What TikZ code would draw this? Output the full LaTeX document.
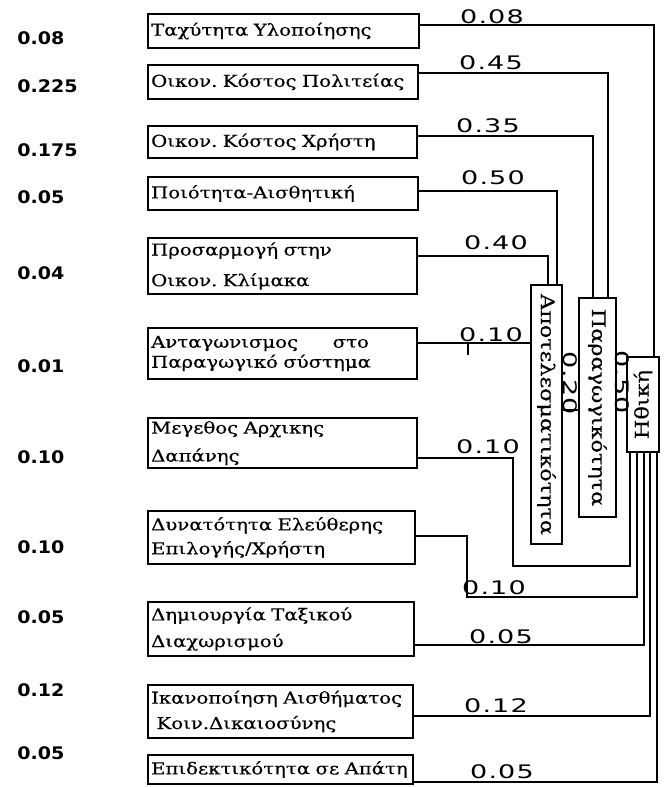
\documentclass[tikz,border=0pt]{standalone}
\usepackage{fontspec}
\usepackage{graphicx}
\setmainfont{DejaVu Serif}[FakeStretch=1.2,FakeBold=0.4]
\newfontfamily\wtfont{DejaVu Sans}[FakeStretch=1.45,LetterSpace=6]
\newfontfamily\gwfont{DejaVu Sans}[FakeStretch=1.1]
\usetikzlibrary{positioning}
\frenchspacing

\begin{document}
\begin{tikzpicture}[x=0.75pt,y=-0.75pt,
  box/.style={draw,line width=1.2pt,anchor=west,inner xsep=2.5pt,inner ysep=0pt,align=left,text width=#1,font=\fontsize{12.3}{15}\selectfont},
  vbox/.style={draw,line width=1.2pt,inner sep=0pt,font=\fontsize{14}{15}\selectfont},
  link/.style={line width=1.2pt},
  wt/.style={font=\wtfont\fontsize{14}{14}\selectfont,inner sep=0pt},
  gw/.style={font=\gwfont\bfseries\fontsize{13}{13}\selectfont,anchor=west,inner sep=0pt}]
\useasboundingbox (0,0) rectangle (667,787);

% criteria
\node[box=198.25pt,minimum height=25.5pt] (speed) at (147,31) {Ταχύτητα Υλοποίησης};
\node[box=197.5pt,minimum height=25.5pt] (cstate) at (147,82) {Οικον. Κόστος Πολιτείας};
\node[box=196.75pt,minimum height=24pt] (cuser) at (147,142) {Οικον. Κόστος Χρήστη};
\node[box=197.5pt,minimum height=24.75pt] (qual) at (147,193.5) {Ποιότητα-Αισθητική};
\node[box=196.75pt,minimum height=42pt] (adapt) at (147,266) {Προσαρμογή στην\\[8pt]Οικον. Κλίμακα};
\node[box=196.75pt,minimum height=38.25pt] (compet) at (147,353.5) {Ανταγωνισμος\hspace{26pt}στο\\Παραγωγικό σύστημα};
\node[box=196.75pt,minimum height=37.5pt] (size) at (147,443) {Μεγεθος Αρχικης\\[6pt]Δαπάνης};
\node[box=195.25pt,minimum height=39.75pt] (choice) at (147,537.5) {Δυνατότητα Ελεύθερης\\[3pt]Επιλογής/Χρήστη};
\node[box=194.5pt,minimum height=40.5pt] (class) at (147,629) {Δημιουργία Ταξικού\\[5pt]Διαχωρισμού};
\node[box=193.75pt,minimum height=39.75pt] (justice) at (147,711.5) {Ικανοποίηση Αισθήματος\\[4pt]\ Κοιν.Δικαιοσύνης};
\node[box=193.75pt,minimum height=21.75pt] (fraud) at (147,769.5) {Επιδεκτικότητα σε Απάτη};

% main groups
\node[vbox,minimum width=23.25pt,minimum height=194.25pt] (effic) at (546.5,414.5) {\rotatebox{-90}{Αποτελεσματικότητα}};
\node[vbox,minimum width=27.75pt,minimum height=164.25pt] (prod) at (597.5,407.5) {\rotatebox{-90}{Παραγωγικότητα}};
\node[vbox,minimum width=24pt,minimum height=71.25pt] (ethic) at (643,404.5) {\rotatebox{90}{Ηθική}};

% links
\draw[link] (speed.east |- 0,25) -| (654,0 |- ethic.north);
\draw[link] (cstate.east |- 0,73) -| (608,0 |- prod.north);
\draw[link] (cuser.east |- 0,136) -| (593,0 |- prod.north);
\draw[link] (qual.east |- 0,191) -| (557,0 |- effic.north);
\draw[link] (adapt.east |- 0,256) -| (548,0 |- effic.north);
\draw[link] (compet.east |- 0,343) -- (effic.west |- 0,343);
\coordinate (tick) at (468,343);
\draw[link] (tick) -- ++(0,12);
\draw[link] (size.east |- 0,458) -| (513,566) -| (630,0 |- ethic.south);
\draw[link] (choice.east |- 0,536) -| (467,597) -| (637,0 |- ethic.south);
\draw[link] (class.east |- 0,645) -| (644,0 |- ethic.south);
\draw[link] (justice.east |- 0,716) -| (650,0 |- ethic.south);
\draw[link] (fraud.east |- 0,782) -| (657,0 |- ethic.south);
\draw[link] (effic.east |- 0,410) -- (prod.west |- 0,410);
\draw[link] (prod.east |- 0,410) -- (ethic.west |- 0,410);

% local weights
\node[wt] (w-speed) at (492,17) {0.08};
\node[wt] (w-cstate) at (491,63) {0.45};
\node[wt] (w-cuser) at (488,126) {0.35};
\node[wt] (w-qual) at (493,178) {0.50};
\node[wt] (w-adapt) at (496,243) {0.40};
\node[wt] (w-compet) at (491,335) {0.10};
\node[wt] (w-size) at (488,447) {0.10};
\node[wt] (w-choice) at (494,588) {0.10};
\node[wt] (w-class) at (501,637) {0.05};
\node[wt] (w-justice) at (496,706) {0.12};
\node[wt] (w-fraud) at (502,772) {0.05};
\node[wt,rotate=-90] (w-effic) at (570,383) {0.20};
\node[wt,rotate=-90] (w-prod) at (622,382) {0.50};

% global weights
\foreach \y/\v [count=\i] in {38/0.08,86/0.225,150/0.175,197/0.05,273/0.04,366/0.01,457/0.10,547/0.10,617/0.05,690/0.12,753/0.05}
  \node[gw] (g\i) at (17,\y) {\v};
\end{tikzpicture}
\end{document}
